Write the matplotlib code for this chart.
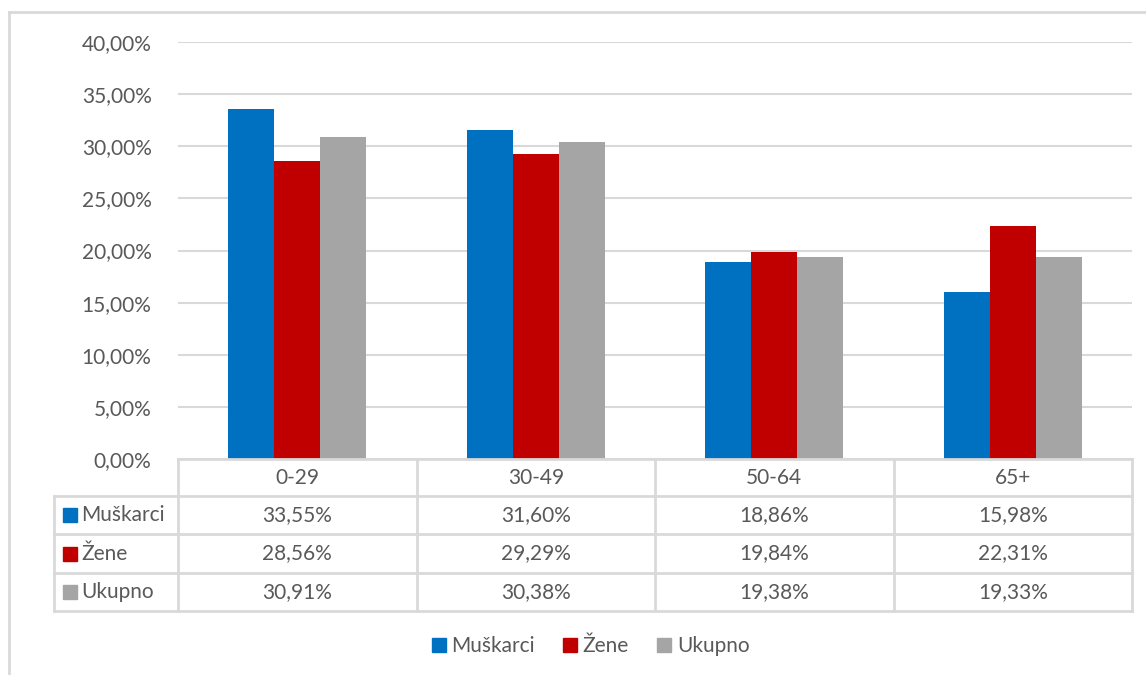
import matplotlib.pyplot as plt
import numpy as np
from matplotlib.lines import Line2D
from matplotlib.patches import Rectangle

plt.rcParams['font.family'] = ['Lato', 'DejaVu Sans']

# data
categories = ["0-29", "30-49", "50-64", "65+"]
series_names = ["Muškarci", "Žene", "Ukupno"]
muskarci = [33.55, 31.60, 18.86, 15.98]
zene = [28.56, 29.29, 19.84, 22.31]
ukupno = [30.91, 30.38, 19.38, 19.33]
series = [muskarci, zene, ukupno]
colors = ["#0070C0", "#C00000", "#A5A5A5"]
yticks = [0, 5, 10, 15, 20, 25, 30, 35, 40]

W, H = 1146, 675
txt = "#595959"
grid = "#D9D9D9"
fs = 15

fig = plt.figure(figsize=(W / 100, H / 100), dpi=100)

def fx(px):
    return px / W

def fy(py):
    return 1 - py / H

# plot area in pixels
x0, x1 = 178, 1132
y_top, y_bot = 42, 459
ax = fig.add_axes([fx(x0), fy(y_bot), fx(x1 - x0), (y_bot - y_top) / H])

n = len(categories)
x = np.arange(n)
bw = 0.193
bars = []
for i, (vals, c) in enumerate(zip(series, colors)):
    b = ax.bar(x + (i - 1) * bw, vals, bw, color=c, zorder=3, label=series_names[i])
    bars.append(b)

ax.set_xlim(-0.5, n - 0.5)
ax.set_ylim(0, 40)
ax.set_yticks(yticks)
ax.set_yticklabels([f"{v:.2f}".replace(".", ",") + "%" for v in yticks], color=txt, fontsize=fs)
ax.tick_params(axis="y", length=0, pad=19)
ax.set_xticks([])
ax.grid(axis="y", color=grid, linewidth=1.5, zorder=0)
for s in ax.spines.values():
    s.set_visible(False)

# data table underneath
row_y = [459, 496, 534, 573, 611]
col_x = [x0 + (x1 - x0) * k / n for k in range(n + 1)]
tab_left = 54
lw = 2

def hline(xa, xb, yy):
    fig.add_artist(Line2D([fx(xa), fx(xb)], [fy(yy), fy(yy)], color=grid, lw=lw))

def vline(xx, ya, yb):
    fig.add_artist(Line2D([fx(xx), fx(xx)], [fy(ya), fy(yb)], color=grid, lw=lw))

hline(x0, x1, row_y[0])
for yy in row_y[1:]:
    hline(tab_left, x1, yy)
for xx in col_x:
    vline(xx, row_y[0], row_y[-1])
vline(tab_left, row_y[1], row_y[-1])

for k, cat in enumerate(categories):
    cx = (col_x[k] + col_x[k + 1]) / 2
    fig.text(fx(cx), fy((row_y[0] + row_y[1]) / 2), cat, ha="center", va="center",
             color=txt, fontsize=fs)

for r, (name, vals, c) in enumerate(zip(series_names, series, colors)):
    cy = (row_y[r + 1] + row_y[r + 2]) / 2
    fig.add_artist(Rectangle((fx(63), fy(cy + 7)), fx(14), 14 / H, color=c))
    fig.text(fx(81), fy(cy), name, ha="left", va="center", color=txt, fontsize=fs)
    for k, v in enumerate(vals):
        cx = (col_x[k] + col_x[k + 1]) / 2
        fig.text(fx(cx), fy(cy), f"{v:.2f}".replace(".", ",") + "%", ha="center",
                 va="center", color=txt, fontsize=fs)

# legend
handles = [Line2D([], [], marker="s", linestyle="none", markersize=10,
                  markerfacecolor=c, markeredgecolor=c) for c in colors]
fig.legend(handles, series_names, loc="center", bbox_to_anchor=(fx(589), fy(646)),
           ncol=3, frameon=False, fontsize=fs, labelcolor=txt, handletextpad=0.1,
           columnspacing=1.2, handlelength=1.0)

# outer chart border
fig.add_artist(Line2D([fx(9), fx(W + 5)], [fy(12), fy(12)], color=grid, lw=2))
fig.add_artist(Line2D([fx(9), fx(9)], [fy(12), fy(H + 5)], color=grid, lw=2))

fig.savefig("out.png", dpi=100)
